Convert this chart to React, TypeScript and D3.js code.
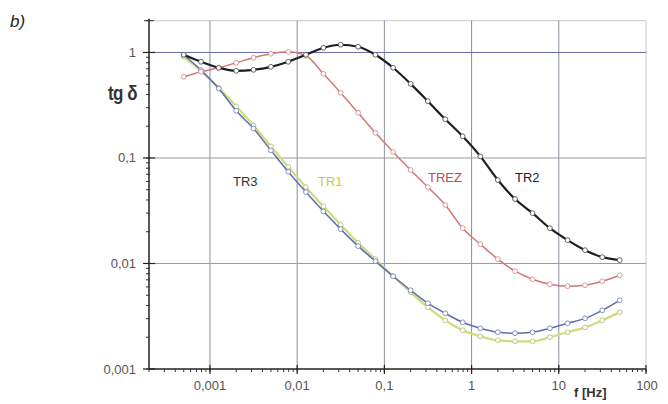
import React from "react";
import * as d3 from "d3";

const freqs = [0.0005, 0.00079, 0.00126, 0.002, 0.00315, 0.005, 0.0079, 0.0126, 0.02, 0.0315, 0.05, 0.079, 0.126, 0.2, 0.315, 0.5, 0.79, 1.26, 2, 3.15, 5, 7.9, 12.6, 20, 31.5, 50];

const tr2 = [0.951, 0.816, 0.716, 0.670, 0.685, 0.731, 0.816, 0.951, 1.108, 1.183, 1.133, 0.951, 0.716, 0.504, 0.345, 0.2326, 0.1604, 0.1036, 0.0618, 0.0408, 0.0300, 0.0216, 0.01665, 0.01338, 0.01148, 0.01075];
const trez = [0.588, 0.656, 0.716, 0.798, 0.891, 0.972, 1.015, 0.930, 0.628, 0.415, 0.268, 0.173, 0.114, 0.0769, 0.0530, 0.0358, 0.0216, 0.01525, 0.01099, 0.00845, 0.00710, 0.00636, 0.00609, 0.00622, 0.00679, 0.00774];
const tr3 = [0.951, 0.680, 0.455, 0.2804, 0.1904, 0.1180, 0.0740, 0.0475, 0.0312, 0.02117, 0.01460, 0.01051, 0.00757, 0.00558, 0.00420, 0.00337, 0.00277, 0.00243, 0.00223, 0.00218, 0.00223, 0.00243, 0.00271, 0.00302, 0.00360, 0.00448];
const tr1 = [0.910, 0.666, 0.462, 0.3085, 0.2030, 0.1285, 0.0824, 0.0529, 0.0348, 0.02330, 0.01569, 0.01099, 0.00757, 0.00534, 0.00385, 0.00289, 0.00233, 0.00204, 0.00187, 0.00183, 0.00183, 0.00200, 0.00223, 0.00248, 0.00289, 0.00345];

const xTickValues = [0.001, 0.01, 0.1, 1, 10, 100];
const xTickLabels = ["0,001", "0,01", "0,1", "1", "10", "100"];
const yTickValues = [0.001, 0.01, 0.1, 1];
const yTickLabels = ["0,001", "0,01", "0,1", "1"];

const seriesNames = ["TR1", "TR3", "TREZ", "TR2"];
const seriesData = [tr1, tr3, trez, tr2];

const styles: Record<string, { line: string; width: number; marker: string; label: string; lx: number; ly: number }> = {
  TR1: { line: "#cfda7a", width: 2.2, marker: "#b8c080", label: "#c4cc40", lx: 318, ly: 186 },
  TR3: { line: "#5f6db5", width: 1.5, marker: "#7a86c0", label: "#333333", lx: 233, ly: 186 },
  TREZ: { line: "#d27676", width: 1.5, marker: "#d49090", label: "#c84848", lx: 428, ly: 182 },
  TR2: { line: "#1e1e1e", width: 2.2, marker: "#555555", label: "#222222", lx: 515, ly: 182 },
};

export default function App() {
  const x = d3.scaleLog().domain([0.0002, 100]).range([149, 646]);
  const y = d3.scaleLog().domain([0.001, 2]).range([369, 20.7]);
  const x0 = 149;
  const y0 = 369;
  const xMinor = x.ticks().filter((v) => v >= 0.0002 && v <= 100);
  const yMinor = y.ticks().filter((v) => v >= 0.001 && v <= 2);
  const line = d3
    .line<[number, number]>()
    .x((d) => x(d[0]))
    .y((d) => y(d[1]))
    .curve(d3.curveMonotoneX);

  const font = "'Liberation Sans', Arial, sans-serif";

  return (
    <svg width={668} height={404} style={{ position: "absolute", left: 0, top: 0, background: "#fff" }}>
      {/* frame */}
      <line x1={x0} x2={646} y1={y(2)} y2={y(2)} stroke="#c8c8cc" strokeWidth={1} />
      <line x1={646} x2={646} y1={y(2)} y2={y0} stroke="#c8c8cc" strokeWidth={1} />
      {/* vertical grid */}
      {xTickValues.slice(0, 5).map((v) => (
        <line key={"vx" + v} x1={x(v)} x2={x(v)} y1={y(2)} y2={y0} stroke="#8a8f9e" strokeWidth={1} />
      ))}
      {/* horizontal grid */}
      {yTickValues.slice(1).map((v) => (
        <line key={"hy" + v} x1={x0} x2={646} y1={y(v)} y2={y(v)} stroke={v === 1 ? "#6a6aae" : "#9a9aa4"} strokeWidth={1} />
      ))}
      {/* series */}
      {seriesNames.map((name, i) => {
        const pts: [number, number][] = freqs.map((f, j) => [f, seriesData[i][j]]);
        const s = styles[name];
        return (
          <g key={name}>
            <path d={line(pts) || ""} fill="none" stroke={s.line} strokeWidth={s.width} />
            {pts.map((p, j) => (
              <circle key={j} cx={x(p[0])} cy={y(p[1])} r={2.4} fill="#fff" stroke={s.marker} strokeWidth={0.9} />
            ))}
          </g>
        );
      })}
      {/* axes */}
      <line x1={x0} x2={x0} y1={y(2) - 2} y2={y0} stroke="#222" strokeWidth={1.5} />
      <line x1={x0} x2={646} y1={y0} y2={y0} stroke="#222" strokeWidth={1.5} />
      {yMinor.map((v) => (
        <line key={"ym" + v} x1={x0 - 3} x2={x0 + 1} y1={y(v)} y2={y(v)} stroke="#333" strokeWidth={1} />
      ))}
      <line x1={x0 - 5} x2={x0 + 5} y1={y(2)} y2={y(2)} stroke="#333" strokeWidth={1} />
      {yTickValues.map((v) => (
        <line key={"yM" + v} x1={x0 - 6} x2={x0 + 6} y1={y(v)} y2={y(v)} stroke="#222" strokeWidth={1.2} />
      ))}
      {xMinor.map((v) => (
        <line key={"xm" + v} x1={x(v)} x2={x(v)} y1={y0} y2={y0 + 3} stroke="#333" strokeWidth={1} />
      ))}
      {xTickValues.map((v) => (
        <line key={"xM" + v} x1={x(v)} x2={x(v)} y1={y0 - 4} y2={y0 + 5} stroke="#222" strokeWidth={1.2} />
      ))}
      {/* tick labels */}
      {yTickValues.map((v, i) => (
        <text key={"yl" + v} x={136} y={y(v) + 4.5} textAnchor="end" fontFamily={font} fontSize={13} fill="#555">
          {yTickLabels[i]}
        </text>
      ))}
      {xTickValues.map((v, i) => (
        <text key={"xl" + v} x={x(v) + (v === 100 ? 1 : 0)} y={390} textAnchor="middle" fontFamily={font} fontSize={13} fill="#555">
          {xTickLabels[i]}
        </text>
      ))}
      {/* axis titles */}
      <text x={0} y={0} transform="translate(137,100) scale(0.85,1)" textAnchor="end" fontFamily={font} fontSize={20} fontWeight="bold" fill="#333" letterSpacing={-0.6}>
        tg δ
      </text>
      <text x={574} y={397} fontFamily={font} fontSize={13} fontWeight="bold" fill="#333">
        f [Hz]
      </text>
      <text x={10} y={27} fontFamily={font} fontSize={17} fontStyle="italic" fill="#222">
        b)
      </text>
      {/* series labels */}
      {seriesNames.map((name) => {
        const s = styles[name];
        return (
          <text key={"lab" + name} x={s.lx} y={s.ly} fontFamily={font} fontSize={13} fill={s.label}>
            {name}
          </text>
        );
      })}
    </svg>
  );
}
